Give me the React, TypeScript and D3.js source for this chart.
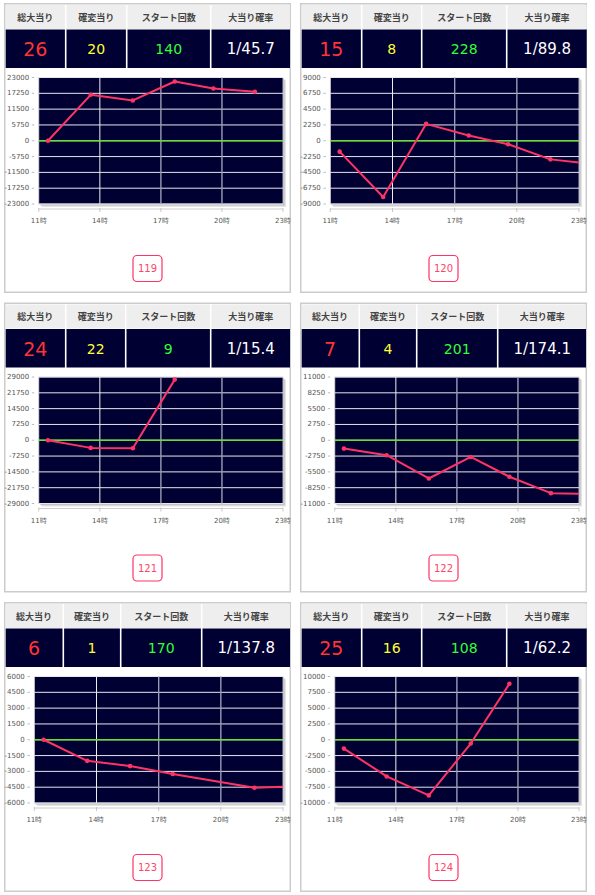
import React from 'react';
import * as d3 from 'd3';

// ---------- data ----------
const hours = [11.45, 13.55, 15.62, 17.68, 19.58, 21.62, 23.7];
const machineNos = ['119', '120', '121', '122', '123', '124'];
const totalHits = [26, 15, 24, 7, 6, 25];
const kakuhenHits = [20, 8, 22, 4, 1, 16];
const startCounts = [140, 228, 9, 201, 170, 108];
const hitRates = ['1/45.7', '1/89.8', '1/15.4', '1/174.1', '1/137.8', '1/62.2'];
const yMaxes = [23000, 9000, 29000, 11000, 6000, 10000];
const series119 = [0, 16700, 14650, 21550, 19000, 17800];
const series120 = [-1550, -8000, 2400, 750, -500, -2650, -3300];
const series121 = [0, -3500, -3650, 27800];
const series122 = [-1450, -2600, -6650, -2900, -6350, -9200, -9380];
const series123: (number | null)[] = [0, -2000, -2500, -3250, null, -4550, -4400];
const series124 = [-1400, -5800, -8800, -600, 8850];
const headerLabels = ['総大当り', '確変当り', 'スタート回数', '大当り確率'];
const xTicks = [11, 14, 17, 20, 23];
const xGridHours = [14, 17, 20];

const allSeries: (number | null)[][] = [series119, series120, series121, series122, series123, series124];

// ---------- layout ----------
const W = 595, H = 895;
const panelLefts = [4, 300];
const panelTops = [3, 302.5, 602];
const PW = 287, PH = 290;
const colEdgesByPanel = [
  [1.7, 61.7, 122.7, 206.7, 286],
  [1.7, 61.7, 121.7, 206.7, 286.7],
  [1.7, 61.7, 121.7, 206.7, 286],
  [1.7, 59.3, 116.7, 197.7, 286],
  [1.7, 59.3, 116.7, 197.7, 286],
  [1.7, 61.7, 121.7, 206.7, 286.7],
];
const valueColors = ['#ff3333', '#ffff33', '#33ff33', '#ffffff'];
const valueSizes = [19, 14, 14, 15];
const NAVY = '#000033';
const LINE = '#ff3366';
const NUMFONT = '"DejaVu Sans", Verdana, sans-serif';
const CJK = '"Noto Sans CJK JP", sans-serif';

let ctx: CanvasRenderingContext2D | null = null;
function textW(s: string, font: string): number {
  if (!ctx) {
    const c = document.createElement('canvas');
    ctx = c.getContext('2d');
  }
  if (!ctx) return s.length * 4.4;
  ctx.font = font;
  return ctx.measureText(s).width;
}

function Panel({ i }: { i: number }) {
  const left = panelLefts[i % 2];
  const top = panelTops[Math.floor(i / 2)];
  const edges = colEdgesByPanel[i];
  const yMax = yMaxes[i];
  const yTicks = d3.range(-4, 5).map((k) => (k * yMax) / 4);
  const labelW = d3.max(yTicks, (t) => textW(String(t), '7px "DejaVu Sans"')) as number;
  const plotL = left + 1.5 + labelW + 8.5;
  const plotR = left + 279;
  const plotT = top + 74.5;
  const plotB = top + 201;
  const x = d3.scaleLinear().domain([11, 23]).range([plotL, plotR]);
  const y = d3.scaleLinear().domain([-yMax, yMax]).range([plotB, plotT]);
  const pts = allSeries[i]
    .map((v, k) => ({ h: hours[k], v }))
    .filter((p) => p.v !== null) as { h: number; v: number }[];
  const lineGen = d3
    .line<{ h: number; v: number }>()
    .x((p) => x(p.h))
    .y((p) => y(p.v));
  const values = [String(totalHits[i]), String(kakuhenHits[i]), String(startCounts[i]), hitRates[i]];
  const clipId = `clip${i}`;
  const axisY = plotB + 5;
  const cx = left + PW / 2;
  return (
    <g>
      <rect x={left + 0.75} y={top + 0.75} width={PW - 1.5} height={PH - 1.5} fill="#fff" stroke="#cccccc" strokeWidth={1.5} />
      {/* header table */}
      {headerLabels.map((lab, c) => {
        const x0 = left + edges[c] + (c === 0 ? 0 : 0.8);
        const x1 = left + edges[c + 1] - (c === 3 ? 0 : 0.8);
        return (
          <g key={c}>
            <rect x={x0} y={top + 2} width={x1 - x0} height={24} fill="#eeeeee" />
            <rect x={x0} y={top + 26.5} width={x1 - x0} height={38.5} fill={NAVY} />
            <text x={(x0 + x1) / 2} y={top + 14} textAnchor="middle" dominantBaseline="central" fontFamily={CJK} fontWeight="bold" fontSize={9} fill="#444">
              {lab}
            </text>
            <text x={(x0 + x1) / 2} y={top + 46} textAnchor="middle" dominantBaseline="central" fontFamily={NUMFONT} fontSize={valueSizes[c]} fill={valueColors[c]}>
              {values[c]}
            </text>
          </g>
        );
      })}
      {/* plot */}
      <defs>
        <clipPath id={clipId}>
          <rect x={plotL} y={plotT - 4} width={plotR - plotL} height={plotB - plotT + 8} />
        </clipPath>
      </defs>
      <rect x={plotL + 3} y={plotT + 3} width={plotR - plotL} height={plotB - plotT} fill="#e4e4e4" />
      <rect x={plotL + 2} y={plotT + 2} width={plotR - plotL} height={plotB - plotT} fill="#cfcfcf" />
      <rect x={plotL + 1} y={plotT + 1} width={plotR - plotL} height={plotB - plotT} fill="#b8b8b8" />
      <rect x={plotL} y={plotT} width={plotR - plotL} height={plotB - plotT} fill={NAVY} stroke="#d8d8e0" strokeWidth={0.8} />
      {yTicks.map((t, k) => (
        <g key={k}>
          <line x1={plotL} x2={plotR} y1={y(t)} y2={y(t)} stroke="#e6e6ee" strokeWidth={1} />
          <line x1={plotL - 7} x2={plotL - 4.5} y1={y(t)} y2={y(t)} stroke="#aaaaaa" strokeWidth={0.8} />
          <text x={plotL - 9.5} y={y(t)} textAnchor="end" dominantBaseline="central" fontFamily={NUMFONT} fontSize={7} fill="#555">
            {t}
          </text>
        </g>
      ))}
      {xGridHours.map((h, k) => (
        <line key={h} x1={x(h)} x2={x(h)} y1={plotT} y2={plotB} stroke={k === 0 ? '#eeeeee' : '#9c9cb8'} strokeWidth={k === 0 ? 1 : 1.4} />
      ))}
      <line x1={plotL} x2={plotR} y1={y(0)} y2={y(0)} stroke="#66dd33" strokeWidth={1.6} />
      <g clipPath={`url(#${clipId})`}>
        <path d={lineGen(pts) || ''} fill="none" stroke={LINE} strokeWidth={2} strokeLinejoin="round" />
        {pts.map((p, k) => (
          <circle key={k} cx={x(p.h)} cy={y(p.v)} r={2.3} fill={LINE} />
        ))}
      </g>
      {/* x axis */}
      <line x1={plotL} x2={plotR} y1={axisY} y2={axisY} stroke="#cccccc" strokeWidth={1} />
      {xTicks.map((h) => (
        <g key={h}>
          <line x1={x(h)} x2={x(h)} y1={axisY - 1} y2={axisY + 3} stroke="#bbbbbb" strokeWidth={0.8} />
          <text x={x(h)} y={axisY + 12} textAnchor="middle" dominantBaseline="central" fontFamily={NUMFONT} fontSize={7} fill="#555">
            {`${h}時`}
          </text>
        </g>
      ))}
      {/* badge */}
      <rect x={cx - 14.5} y={top + 252.5} width={29} height={26} rx={4} ry={4} fill="#fff" stroke={LINE} strokeWidth={1.2} />
      <text x={cx} y={top + 265.5} textAnchor="middle" dominantBaseline="central" fontFamily={NUMFONT} fontSize={10} fill="#ff4466">
        {machineNos[i]}
      </text>
    </g>
  );
}

export default function App() {
  return (
    <div style={{ position: 'absolute', left: 0, top: 0, width: W, height: H, background: '#fff' }}>
      <svg width={W} height={H} viewBox={`0 0 ${W} ${H}`} style={{ display: 'block' }}>
        <rect width={W} height={H} fill="#fff" />
        {machineNos.map((_, i) => (
          <Panel key={i} i={i} />
        ))}
      </svg>
    </div>
  );
}
